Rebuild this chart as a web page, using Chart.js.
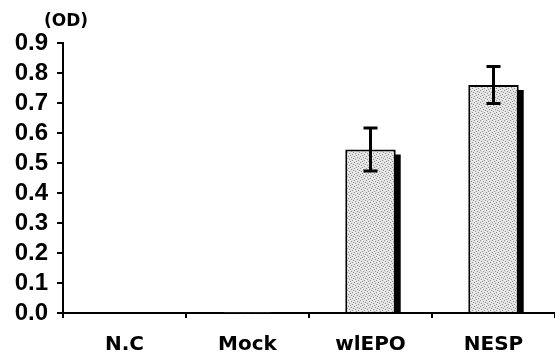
<!DOCTYPE html>
<html>
<head>
<meta charset="utf-8">
<script src="https://cdn.jsdelivr.net/npm/chart.js@4"></script>
<style>
  html, body { margin:0; padding:0; background:#fff; }
  #wrap { width:555px; height:356px; }
</style>
</head>
<body>
<div id="wrap"><canvas id="odChart" width="555" height="356"></canvas></div>
<script>
// values
const categories = ["N.C", "Mock", "wlEPO", "NESP"];
const odValues = [0, 0.002, 0.545, 0.76];
const odErrors = [0, 0, 0.072, 0.062];
const yTickValues = [0, 0.1, 0.2, 0.3, 0.4, 0.5, 0.6, 0.7, 0.8, 0.9];
const unitLabel = "(OD)";

const FONT = "'Liberation Sans', Arial, sans-serif";
const WIDE = "'DejaVu Sans', sans-serif";

// stippled grey fill like the scanned bars
function makeStipple(){
  const c = document.createElement("canvas");
  c.width = 6; c.height = 6;
  const g = c.getContext("2d");
  g.fillStyle = "#e2e2e2"; g.fillRect(0,0,6,6);
  g.fillStyle = "#939393";
  [[0,0],[3,1],[1,3],[4,4],[2,5],[5,2]].forEach(([x,y])=>g.fillRect(x,y,1,1));
  g.fillStyle = "#f6f6f6";
  [[2,0],[5,3],[0,4]].forEach(([x,y])=>g.fillRect(x,y,1,1));
  return g.createPattern(c, "repeat");
}

const barShadow = {
  id: "barShadow",
  beforeDatasetsDraw(chart){
    const ctx = chart.ctx, y = chart.scales.y;
    const base = y.getPixelForValue(0);
    chart.getDatasetMeta(0).data.forEach((bar, i)=>{
      if (odValues[i] < 0.01) return;
      const w = bar.width;
      ctx.save();
      ctx.fillStyle = "#000";
      ctx.fillRect(bar.x + w/2 - 2, bar.y + 5, 7, base - bar.y - 5);
      ctx.restore();
    });
  }
};

const errorBars = {
  id: "errorBars",
  afterDatasetsDraw(chart){
    const ctx = chart.ctx, y = chart.scales.y;
    chart.getDatasetMeta(0).data.forEach((bar, i)=>{
      const e = odErrors[i];
      if (!e) return;
      const top = y.getPixelForValue(odValues[i] + e);
      const bot = y.getPixelForValue(odValues[i] - e);
      ctx.save();
      ctx.strokeStyle = "#000";
      ctx.lineWidth = 3;
      ctx.beginPath();
      ctx.moveTo(bar.x, top); ctx.lineTo(bar.x, bot);
      ctx.moveTo(bar.x - 7, top); ctx.lineTo(bar.x + 7, top);
      ctx.moveTo(bar.x - 7, bot); ctx.lineTo(bar.x + 7, bot);
      ctx.stroke();
      ctx.restore();
    });
  }
};

const unitText = {
  id: "unitText",
  afterDraw(chart){
    const ctx = chart.ctx, a = chart.chartArea;
    ctx.save();
    ctx.font = "bold 17px " + WIDE;
    ctx.fillStyle = "#000";
    ctx.textAlign = "center";
    ctx.textBaseline = "middle";
    ctx.fillText(unitLabel, a.left + 3, a.top - 21);
    ctx.restore();
  }
};

new Chart(document.getElementById("odChart"), {
  type: "bar",
  data: {
    labels: categories,
    datasets: [{
      data: odValues,
      backgroundColor: makeStipple(),
      borderColor: "#000",
      borderWidth: 2,
      borderSkipped: "bottom",
      barPercentage: 0.41,
      categoryPercentage: 1
    }]
  },
  options: {
    responsive: false,
    animation: false,
    devicePixelRatio: 1,
    layout: { padding: { top: 43, right: 0, left: 0, bottom: 0 } },
    plugins: { legend: { display: false }, tooltip: { enabled: false } },
    scales: {
      x: {
        afterFit: s => { s.height = 43; },
        grid: { drawOnChartArea: false, drawTicks: true, tickLength: 5, color: "#000", lineWidth: 2, offset: true },
        border: { display: true, color: "#000", width: 2 },
        ticks: { color: "#000", padding: 15, font: { family: WIDE, size: 20, weight: "bold" } }
      },
      y: {
        min: 0, max: 0.9,
        afterFit: s => { s.width = 63; },
        afterBuildTicks: s => { s.ticks = yTickValues.map(v => ({ value: v })); },
        grid: { drawOnChartArea: false, drawTicks: true, tickLength: 6, color: "#000", lineWidth: 2 },
        border: { display: true, color: "#000", width: 2 },
        ticks: {
          color: "#000", padding: 9, autoSkip: false,
          font: { family: FONT, size: 24, weight: "bold" },
          callback: v => Number(v).toFixed(1)
        }
      }
    }
  },
  plugins: [barShadow, errorBars, unitText]
});
</script>
</body>
</html>
